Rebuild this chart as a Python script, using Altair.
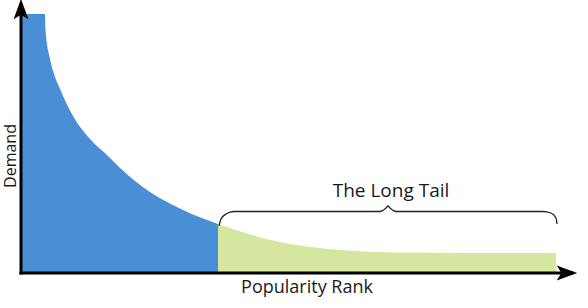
import altair as alt
import pandas as pd

# Head of the distribution (popularity rank, demand)
head_rank = [0, 24, 24.5, 29, 33, 39, 52, 69, 87, 99, 129, 162, 197]
head_demand = [259, 259, 243, 214, 199, 184, 157, 134, 117, 105, 81, 63, 49]

# The long tail
tail_rank = [197, 229, 259, 289, 326, 379, 450, 535]
tail_demand = [49, 38.5, 31, 26, 22.5, 20.5, 20, 20]

# Brace over the tail
brace_rank = [198, 200, 205, 213, 359, 365, 367, 369, 375, 521, 530, 535, 536]
brace_demand = [47, 54, 59, 61.5, 61.5, 65, 67, 65, 61.5, 61.5, 60, 55, 49]

# Labels
x_title = "Popularity Rank"
y_title = "Demand"
tail_label = "The Long Tail"

head = pd.DataFrame({"rank": head_rank, "demand": head_demand})
tail = pd.DataFrame({"rank": tail_rank, "demand": tail_demand})
brace = pd.DataFrame({"rank": brace_rank, "demand": brace_demand})

xs = alt.Scale(domain=[0, 559], nice=False, zero=False)
ys = alt.Scale(domain=[0, 273], nice=False, zero=False)
X = lambda f="rank": alt.X(f"{f}:Q", scale=xs, axis=None)
Y = lambda f="demand": alt.Y(f"{f}:Q", scale=ys, axis=None)

head_area = alt.Chart(head).mark_area(color="#4a8fd5", interpolate="monotone").encode(
    x=X(), y=Y(), y2=alt.datum(0)
)
tail_area = alt.Chart(tail).mark_area(color="#d6e69e", interpolate="monotone").encode(
    x=X(), y=Y(), y2=alt.datum(0)
)

axes_df = pd.DataFrame({
    "r1": [-1.5, 0], "r2": [552, 0],
    "d1": [0, -1.5], "d2": [0, 262],
})
axis_lines = alt.Chart(axes_df).mark_rule(color="black", strokeWidth=3).encode(
    x=X("r1"), x2="r2", y=Y("d1"), y2="d2"
)

arrow_path = "M0,-1L0.72,1L0,0.55L-0.72,1Z"
arrows_df = pd.DataFrame({"rank": [0, 546], "demand": [264, 0], "ang": [0, 90]})
arrows = alt.Chart(arrows_df).mark_point(
    shape=arrow_path, filled=True, color="black", opacity=1, size=420, strokeWidth=0
).encode(x=X(), y=Y(), angle=alt.Angle("ang:Q", scale=None))

brace_line = alt.Chart(brace).mark_line(
    color="#222222", strokeWidth=1.3, interpolate="monotone"
).encode(x=X(), y=Y())

font = "Open Sans"
txt_df = pd.DataFrame({
    "rank": [370, 286], "demand": [76, -20], "label": [tail_label, x_title],
    "fs": [19, 18],
})
texts = alt.Chart(txt_df).mark_text(
    font=font, color="#1a1a1a", baseline="alphabetic", align="center"
).encode(x=X(), y=Y(), text="label:N", size=alt.Size("fs:Q", scale=None))

ytxt = alt.Chart(pd.DataFrame({"rank": [-5.5], "demand": [117], "label": [y_title]})).mark_text(
    font=font, fontSize=16, color="#1a1a1a", baseline="alphabetic", align="center", angle=270
).encode(x=X(), y=Y(), text="label:N")

chart = alt.layer(head_area, tail_area, brace_line, axis_lines, arrows, texts, ytxt).properties(
    width=559, height=273,
    padding={"left": 21, "top": 0, "right": 8, "bottom": 35},
    autosize=alt.AutoSizeParams(type="none"),
    background="white",
).configure_view(stroke=None)

chart.save("out.html", embed_options={"renderer": "svg", "actions": False})
